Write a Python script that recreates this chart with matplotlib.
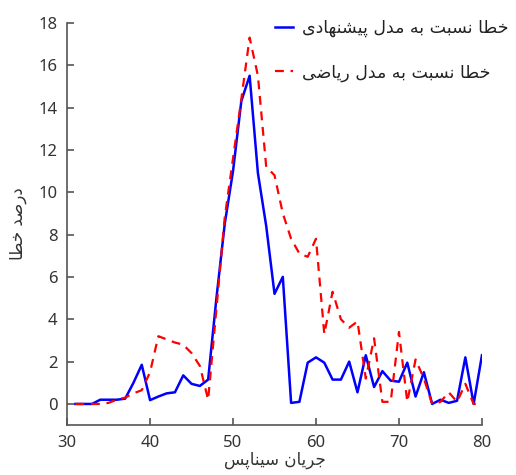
import numpy as np
import matplotlib
matplotlib.use('Agg')
import matplotlib.pyplot as plt

plt.rcParams['font.family'] = ['DejaVu Sans']

# --- data ---
x = list(range(31, 81))
proposed = [0, 0, 0, 0.2, 0.2, 0.2, 0.25, 1.0, 1.85, 0.18,
            0.35, 0.5, 0.55, 1.35, 0.95, 0.85, 1.15, 5.0, 8.5, 11.0,
            14.3, 15.5, 10.9, 8.4, 5.2, 6.0, 0.05, 0.1, 1.95, 2.2,
            1.95, 1.15, 1.15, 2.0, 0.55, 2.3, 0.8, 1.55, 1.1, 1.05,
            1.95, 0.35, 1.5, 0.0, 0.2, 0.05, 0.15, 2.2, 0.0, 2.3]
math_model = [0, 0, 0, 0, 0.05, 0.2, 0.3, 0.5, 0.65, 1.5,
              3.2, 3.05, 2.9, 2.8, 2.4, 1.8, 0.2, 4.5, 8.8, 11.6,
              14.4, 17.3, 15.5, 11.2, 10.8, 9.0, 7.8, 7.1, 6.95, 7.8,
              3.3, 5.3, 4.0, 3.6, 3.9, 1.2, 3.1, 0.1, 0.1, 3.4,
              0.1, 2.1, 1.2, 0.0, 0.1, 0.55, 0.1, 0.95, 0.0, 0.0]

xlabel_txt = 'جریان سیناپس'
ylabel_txt = 'درصد خطا'
label_proposed = 'خطا نسبت به مدل پیشنهادی'
label_math = 'خطا نسبت به مدل ریاضی'

# minimal Persian shaping: (isolated, final, initial, medial); None = right-joining only
FORMS = {
    'ا': (0xFE8D, 0xFE8E, None, None),
    'ب': (0xFE8F, 0xFE90, 0xFE91, 0xFE92),
    'پ': (0xFB56, 0xFB57, 0xFB58, 0xFB59),
    'ت': (0xFE95, 0xFE96, 0xFE97, 0xFE98),
    'ج': (0xFE9D, 0xFE9E, 0xFE9F, 0xFEA0),
    'خ': (0xFEA5, 0xFEA6, 0xFEA7, 0xFEA8),
    'د': (0xFEA9, 0xFEAA, None, None),
    'ر': (0xFEAD, 0xFEAE, None, None),
    'س': (0xFEB1, 0xFEB2, 0xFEB3, 0xFEB4),
    'ش': (0xFEB5, 0xFEB6, 0xFEB7, 0xFEB8),
    'ص': (0xFEB9, 0xFEBA, 0xFEBB, 0xFEBC),
    'ض': (0xFEBD, 0xFEBE, 0xFEBF, 0xFEC0),
    'ط': (0xFEC1, 0xFEC2, 0xFEC3, 0xFEC4),
    'ل': (0xFEDD, 0xFEDE, 0xFEDF, 0xFEE0),
    'م': (0xFEE1, 0xFEE2, 0xFEE3, 0xFEE4),
    'ن': (0xFEE5, 0xFEE6, 0xFEE7, 0xFEE8),
    'ه': (0xFEE9, 0xFEEA, 0xFEEB, 0xFEEC),
    'ی': (0xFBFC, 0xFBFD, 0xFBFE, 0xFBFF),
}


def shape(text):
    out = []
    for i, ch in enumerate(text):
        if ch not in FORMS:
            out.append(ch)
            continue
        prev = text[i - 1] if i > 0 else ''
        nxt = text[i + 1] if i + 1 < len(text) else ''
        f = FORMS[ch]
        join_prev = prev in FORMS and FORMS[prev][2] is not None
        join_next = nxt in FORMS and f[2] is not None
        if join_prev and join_next:
            code = f[3]
        elif join_prev:
            code = f[1]
        elif join_next:
            code = f[2]
        else:
            code = f[0]
        out.append(chr(code))
    return ''.join(out)[::-1]


fig = plt.figure(figsize=(5.16, 4.75), dpi=100)
ax = fig.add_axes([0.130, 0.105, 0.804, 0.847])

ax.plot(x, proposed, color='#0000FF', lw=1.8, label=shape(label_proposed))
ax.plot(x, math_model, color='#FF0000', lw=1.6, ls=(0, (4, 3)), label=shape(label_math))

ax.set_xlim(30, 80)
ax.set_ylim(-1, 18)
ax.set_xticks(range(30, 81, 10))
ax.set_yticks(range(0, 19, 2))
for s in ['top', 'right']:
    ax.spines[s].set_visible(False)
for s in ['left', 'bottom']:
    ax.spines[s].set_color('#555555')
    ax.spines[s].set_linewidth(1.2)
ax.tick_params(direction='in', length=5, width=1.2, color='#555555',
               labelsize=12, labelcolor='#333333', pad=7)
for lab in ax.get_xticklabels() + ax.get_yticklabels():
    lab.set_family('Noto Sans')

ax.set_xlabel(shape(xlabel_txt), fontsize=12, color='#333333', labelpad=0)
ax.set_ylabel(shape(ylabel_txt), fontsize=12, color='#333333', labelpad=8)

fig.legend(loc='upper left', bbox_to_anchor=(0.517, 0.978), frameon=False,
           fontsize=12.5, handlelength=1.0, handletextpad=0.55, labelspacing=1.5,
           borderpad=0, labelcolor='#222222')

fig.savefig('out.png', dpi=100)
